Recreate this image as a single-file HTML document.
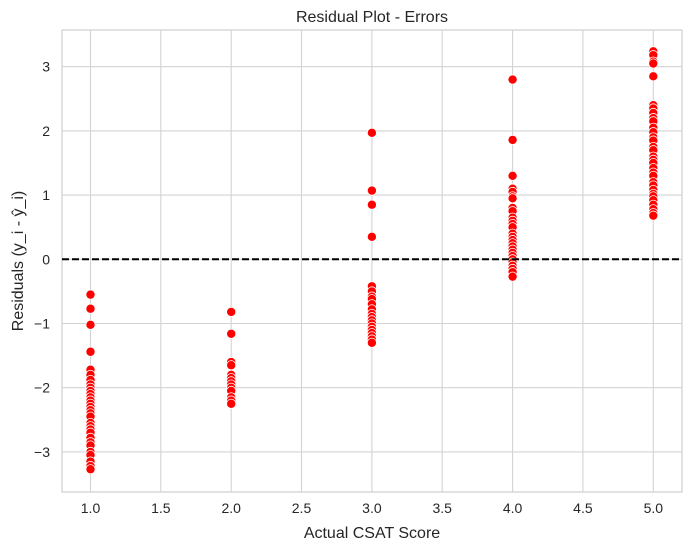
<!DOCTYPE html>
<html><head><meta charset="utf-8"><style>
body{margin:0;background:#fff;}
svg text{font-family:"Liberation Sans","DejaVu Sans",sans-serif;fill:#262626;}
</style></head><body>
<svg id="s" width="691" height="550" xmlns="http://www.w3.org/2000/svg">
<rect width="691" height="550" fill="#fff"/>
<g stroke="#d3d3d3" stroke-width="1.1">
<line x1="90.5" y1="30" x2="90.5" y2="492"/><line x1="160.8" y1="30" x2="160.8" y2="492"/>
<line x1="231.2" y1="30" x2="231.2" y2="492"/><line x1="301.5" y1="30" x2="301.5" y2="492"/>
<line x1="371.9" y1="30" x2="371.9" y2="492"/><line x1="442.2" y1="30" x2="442.2" y2="492"/>
<line x1="512.6" y1="30" x2="512.6" y2="492"/><line x1="582.9" y1="30" x2="582.9" y2="492"/>
<line x1="653.3" y1="30" x2="653.3" y2="492"/>
<line x1="62" y1="66.7" x2="682" y2="66.7"/><line x1="62" y1="130.9" x2="682" y2="130.9"/>
<line x1="62" y1="195.1" x2="682" y2="195.1"/><line x1="62" y1="259.3" x2="682" y2="259.3"/>
<line x1="62" y1="323.5" x2="682" y2="323.5"/><line x1="62" y1="387.7" x2="682" y2="387.7"/>
<line x1="62" y1="451.9" x2="682" y2="451.9"/>
</g>
<rect x="62" y="30" width="620" height="462" fill="none" stroke="#d3d3d3" stroke-width="1.3"/>
<g id="pts" fill="#ff0000" stroke="#fff" stroke-width="0.8"></g>
<line x1="62" y1="259.3" x2="682" y2="259.3" stroke="#000" stroke-width="2" stroke-dasharray="7,3"/>
<g font-size="14" text-anchor="middle">
<text x="90.5" y="513">1.0</text><text x="160.8" y="513">1.5</text><text x="231.2" y="513">2.0</text>
<text x="301.5" y="513">2.5</text><text x="371.9" y="513">3.0</text><text x="442.2" y="513">3.5</text>
<text x="512.6" y="513">4.0</text><text x="582.9" y="513">4.5</text><text x="653.3" y="513">5.0</text>
</g>
<g font-size="14" text-anchor="end">
<text x="50" y="71.5">3</text><text x="50" y="136">2</text><text x="50" y="200">1</text>
<text x="50" y="264.5">0</text><text x="50" y="328.5">−1</text><text x="50" y="392.5">−2</text><text x="50" y="457">−3</text>
</g>
<text x="372" y="538" font-size="16" text-anchor="middle">Actual CSAT Score</text>
<text x="372" y="22" font-size="16" text-anchor="middle">Residual Plot - Errors</text>
<text transform="translate(23,261) rotate(-90)" font-size="16" text-anchor="middle">Residuals (y_i - ŷ_i)</text>
</svg>
<script>
var d={1:[-0.55,-0.77,-1.02,-1.44,-1.72,-1.8,-1.88,-1.95,-2.0,-2.05,-2.1,-2.15,-2.2,-2.25,-2.3,-2.35,-2.4,-2.45,-2.55,-2.6,-2.65,-2.7,-2.78,-2.85,-2.9,-3.0,-3.05,-3.15,-3.22,-3.27],
2:[-0.82,-1.16,-1.6,-1.65,-1.8,-1.85,-1.9,-1.95,-2.0,-2.05,-2.15,-2.2,-2.25],
3:[1.97,1.07,0.85,0.35,-0.42,-0.5,-0.58,-0.62,-0.7,-0.78,-0.85,-0.9,-0.95,-1.0,-1.05,-1.1,-1.15,-1.2,-1.25,-1.3],
4:[2.8,1.86,1.3,1.1,1.05,0.98,0.95,0.8,0.75,0.65,0.6,0.55,0.5,0.4,0.35,0.3,0.25,0.2,0.15,0.1,0.05,0,-0.05,-0.1,-0.15,-0.2,-0.27],
5:[3.24,3.18,3.08,3.05,2.85,2.4,2.35,2.28,2.2,2.15,2.05,1.98,1.9,1.85,1.75,1.7,1.6,1.55,1.5,1.42,1.35,1.3,1.2,1.15,1.08,1.02,0.98,0.92,0.85,0.78,0.72,0.68]};
var g=document.getElementById('pts'),h='';
for(var k in d){var x=90.5+(k-1)*140.7;d[k].forEach(function(v){h+='<circle cx="'+x+'" cy="'+(259.3-v*64.2)+'" r="4.6"/>';});}
g.innerHTML=h;
</script>
</body></html>
